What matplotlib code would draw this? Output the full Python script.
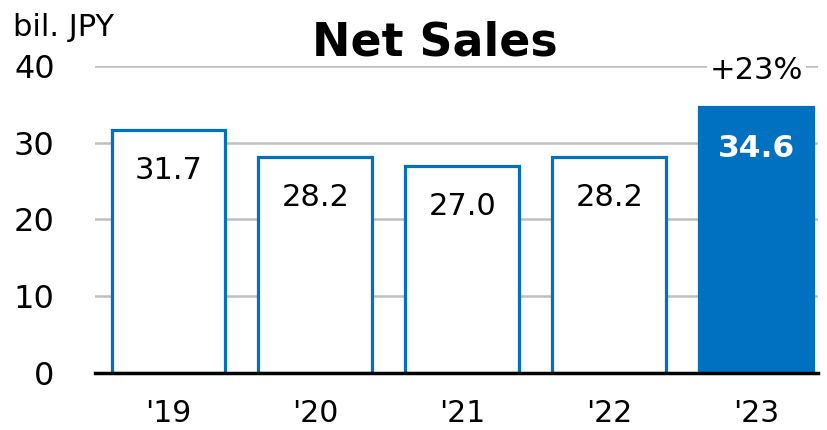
import matplotlib
matplotlib.use("Agg")
from matplotlib import pyplot as plt

years = ["'19", "'20", "'21", "'22", "'23"]
sales = [31.7, 28.2, 27.0, 28.2, 34.6]
growth_label = "+23%"

blue = "#0070C0"

fig = plt.figure(figsize=(8.28, 4.30), dpi=100)
ax = fig.add_axes([0.1147, 0.1326, 0.8733, 0.7139])

x = range(len(years))
faces = ["white"] * (len(years) - 1) + [blue]
ax.bar(x, sales, width=0.775, color=faces, edgecolor=blue, linewidth=2.3, zorder=3)

for i, v in enumerate(sales):
    last = i == len(sales) - 1
    ax.text(i, v - 5.3, f"{v:.1f}", ha="center", va="center",
            fontsize=22.5 if last else 22,
            color="white" if last else "black",
            fontweight="bold" if last else "normal", zorder=4)

ax.text(len(sales) - 1, 39.4, growth_label, ha="center", va="center", fontsize=22,
        bbox=dict(facecolor="white", edgecolor="none", pad=2), zorder=4, clip_on=False)

ax.set_xlim(-0.5, 4.42)
ax.set_ylim(0, 40)
ax.set_yticks([0, 10, 20, 30, 40])
ax.set_xticks(list(x))
ax.set_xticklabels(years)
ax.tick_params(axis="both", length=0, colors="black")
ax.tick_params(axis="y", labelsize=23, pad=29)
ax.tick_params(axis="x", labelsize=21.5, pad=19)

ax.grid(axis="y", color="#BFBFBF", linewidth=1.8, zorder=0)
for s in ["top", "right", "left"]:
    ax.spines[s].set_visible(False)
ax.spines["bottom"].set_linewidth(2.5)
ax.spines["bottom"].set_zorder(5)

fig.text(0.525, 0.9, "Net Sales", ha="center", va="center", fontsize=33, fontweight="bold")
fig.text(0.016, 0.935, "bil. JPY", ha="left", va="center", fontsize=22)

fig.savefig("out.png", dpi=100)
